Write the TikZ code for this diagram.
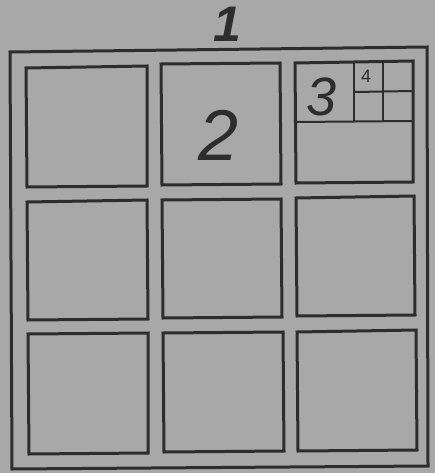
\documentclass[tikz,border=0pt]{standalone}
\usepackage{fontspec}
\setmainfont{Liberation Sans}
\begin{document}
\begin{tikzpicture}[x=1pt,y=-1pt,
  ink/.style={draw=inkc,line width=3pt,line join=miter},
  thin ink/.style={draw=inkc,line width=2pt},
  digit/.style={text=inkc,inner sep=0pt,font=\itshape}]
\definecolor{paper}{RGB}{168,168,168}
\definecolor{inkc}{RGB}{45,45,45}
\fill[paper] (0,0) rectangle (435,473);
\useasboundingbox (0,0) rectangle (435,473);
% outer square
\draw[ink] (10,52) -- (427,47) -- (428,466) -- (12,469) -- cycle;
% row 1
\draw[ink] (26,68) -- (147,66) -- (147,186) -- (27,187) -- cycle;
\draw[ink] (161,64) -- (280,63) -- (281,184) -- (162,185) -- cycle;
\draw[ink] (295,63) -- (413,61) -- (413,182) -- (296,183) -- cycle;
% subdivisions in square 3
\draw[thin ink] (296,122) -- (413,121);
\draw[thin ink] (354,63) -- (354,122);
\draw[thin ink] (383,62) -- (383,121);
\draw[thin ink] (354,92) -- (413,91);
% row 2
\draw[ink] (27,202) -- (147,200) -- (148,319) -- (28,320) -- cycle;
\draw[ink] (162,200) -- (281,199) -- (282,317) -- (163,318) -- cycle;
\draw[ink] (296,198) -- (414,196) -- (415,315) -- (297,316) -- cycle;
% row 3
\draw[ink] (28,334) -- (148,333) -- (148,453) -- (29,454) -- cycle;
\draw[ink] (163,333) -- (283,332) -- (284,451) -- (164,452) -- cycle;
\draw[ink] (297,332) -- (416,330) -- (417,450) -- (298,451) -- cycle;
% labels
\node[digit,font=\fontsize{50}{50}\selectfont\bfseries\itshape] (n1) at (227,24) {1};
\node[digit,font=\fontsize{72}{72}\selectfont\itshape] (n2) at (219,135) {2};
\node[digit,font=\fontsize{54}{54}\selectfont\itshape] (n3) at (322,97) {3};
\node[digit,font=\fontsize{18}{18}\selectfont] (n4) at (366,76) {4};
\end{tikzpicture}
\end{document}
